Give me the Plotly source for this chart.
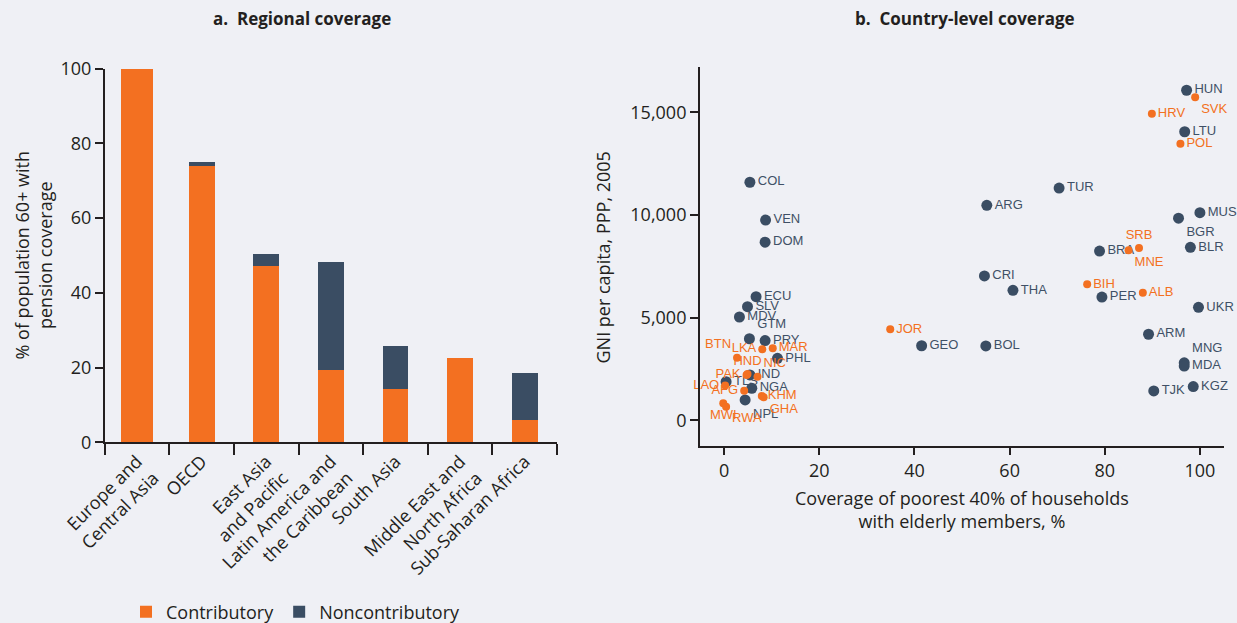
import plotly.graph_objects as go

# ---- Panel a: regional pension coverage (% of population 60+) ----
regions = [
    "Europe and<br>Central Asia",
    "OECD",
    "East Asia<br>and Pacific",
    "Latin America and<br>the Caribbean",
    "South Asia",
    "Middle East and<br>North Africa",
    "Sub-Saharan Africa",
]
contributory = [100.0, 74.0, 47.2, 19.4, 14.3, 22.6, 6.0]
noncontributory = [0.0, 1.0, 3.2, 28.9, 11.5, 0.0, 12.5]

# ---- Panel b: country-level coverage vs GNI per capita ----
nc_codes = ["HUN", "LTU", "MUS", "BGR", "BLR", "BRA", "PER", "UKR", "ARM", "MNG",
            "MDA", "KGZ", "TJK", "TUR", "ARG", "CRI", "THA", "GEO", "BOL", "COL",
            "VEN", "DOM", "ECU", "SLV", "MDV", "GTM", "PRY", "PHL", "IND", "TLS",
            "NGA", "NPL"]
nc_coverage = [97.2, 96.8, 100.0, 95.5, 98.0, 78.9, 79.4, 99.7, 89.2, 96.7,
               96.7, 98.6, 90.3, 70.4, 55.2, 54.7, 60.7, 41.5, 55.0, 5.4,
               8.7, 8.6, 6.7, 4.9, 3.2, 5.3, 8.6, 11.2, 5.4, 0.4,
               5.8, 4.4]
nc_gni = [16070, 14050, 10110, 9840, 8420, 8240, 6000, 5500, 4190, 2800,
          2640, 1640, 1430, 11310, 10470, 7030, 6330, 3630, 3620, 11590,
          9750, 8670, 6020, 5530, 5030, 3970, 3880, 3020, 2210, 1880,
          1560, 990]

c_codes = ["SVK", "HRV", "POL", "SRB", "MNE", "BIH", "ALB", "JOR", "MAR", "LKA",
           "BTN", "PAK", "HND", "NIC", "LAO", "AFG", "KHM", "GHA", "MWI", "RWA"]
c_coverage = [99.0, 89.9, 95.9, 87.2, 85.0, 76.3, 88.0, 34.9, 10.2, 8.0,
              2.7, 4.7, 4.9, 7.0, 0.2, 4.2, 7.9, 8.3, -0.2, 0.4]
c_gni = [15730, 14930, 13470, 8390, 8280, 6620, 6210, 4430, 3510, 3460,
         3050, 2210, 2260, 2120, 1690, 1440, 1180, 1120, 830, 660]

# label placement around each marker
nc_label_pos = {"BGR": "bottom right", "MNG": "top right", "GTM": "top right",
                "NPL": "bottom right"}
c_label_pos = {"SVK": "bottom right", "SRB": "top center", "MNE": "bottom right",
               "LKA": "middle left", "BTN": "top left", "PAK": "middle left",
               "HND": "top center", "NIC": "top right", "LAO": "middle left",
               "AFG": "middle left", "GHA": "bottom right", "MWI": "bottom center",
               "RWA": "bottom right"}

ORANGE = "#F37021"
NAVY = "#3A4D63"
INK = "#231F20"
BG = "#EFF0F5"
FONT = "Open Sans"
W, H = 1237, 623

fig = go.Figure()

bar_widths = [0.51] + [0.40] * (len(regions) - 1)
fig.add_trace(go.Bar(x=regions, y=contributory, name="Contributory",
                     marker=dict(color=ORANGE, line=dict(width=0)),
                     width=bar_widths, xaxis="x", yaxis="y"))
fig.add_trace(go.Bar(x=regions, y=noncontributory, name="Noncontributory",
                     marker=dict(color=NAVY, line=dict(width=0)),
                     width=bar_widths, xaxis="x", yaxis="y"))

fig.add_trace(go.Scatter(
    x=nc_coverage, y=nc_gni, text=nc_codes, mode="markers+text",
    textposition=[nc_label_pos.get(c, "middle right") for c in nc_codes],
    marker=dict(color=NAVY, size=11, line=dict(width=0)),
    textfont=dict(family="Liberation Sans, Arial", size=13, color="#3F5066"),
    showlegend=False, cliponaxis=False, xaxis="x2", yaxis="y2"))
fig.add_trace(go.Scatter(
    x=c_coverage, y=c_gni, text=c_codes, mode="markers+text",
    textposition=[c_label_pos.get(c, "middle right") for c in c_codes],
    marker=dict(color=ORANGE, size=8, line=dict(width=0)),
    textfont=dict(family="Liberation Sans, Arial", size=13, color=ORANGE),
    showlegend=False, cliponaxis=False, xaxis="x2", yaxis="y2"))

axis_common = dict(showgrid=False, zeroline=False, showline=True, linecolor=INK,
                   linewidth=1.5, ticks="outside", tickcolor=INK, tickwidth=1.5,
                   automargin=False,
                   tickfont=dict(family=FONT, size=18, color=INK))


def px_x(p):
    return p / W


def px_y(p):
    return 1 - p / H


def label(text, x, y, size=18, angle=0):
    return dict(text=text, x=px_x(x), y=px_y(y), xref="paper", yref="paper",
                xanchor="center", yanchor="middle", showarrow=False,
                textangle=angle, font=dict(family=FONT, size=size, color=INK))


fig.update_layout(
    template="none",
    width=W, height=H, autosize=False,
    margin=dict(l=0, r=0, t=0, b=0, pad=0, autoexpand=False),
    paper_bgcolor=BG, plot_bgcolor=BG,
    barmode="stack", bargap=0.2,
    font=dict(family=FONT, color=INK),
    xaxis=dict(axis_common, domain=[px_x(104.7), px_x(557)], anchor="y",
               tickson="boundaries", ticklen=11, tickangle=-45,
               range=[-0.5, 6.5]),
    yaxis=dict(axis_common, domain=[px_y(442.3), px_y(68.7)], anchor="x",
               range=[0, 100], tickvals=[0, 20, 40, 60, 80, 100], ticklen=8),
    xaxis2=dict(axis_common, domain=[px_x(699.8), px_x(1223.7)], anchor="y2",
                range=[-5.13, 105.0], tickvals=[0, 20, 40, 60, 80, 100], ticklen=8),
    yaxis2=dict(axis_common, domain=[px_y(445.7), px_y(66.7)], anchor="x2",
                range=[-1237, 17217], tickvals=[0, 5000, 10000, 15000],
                tickformat=",", ticklen=8),
    legend=dict(orientation="h", traceorder="normal", x=px_x(126),
                xanchor="left", y=px_y(612), yanchor="middle",
                font=dict(family=FONT, size=18, color=INK),
                bgcolor="rgba(0,0,0,0)", itemclick=False),
    annotations=[
        label("<b>a.\u00a0 Regional coverage</b>", 302, 18, size=17),
        label("<b>b.\u00a0 Country-level coverage</b>", 965, 18, size=17),
        label("% of population 60+ with<br>pension coverage", 33, 255.5, angle=-90),
        label("GNI per capita, PPP, 2005", 602, 257.5, angle=-90),
        label("Coverage of poorest 40% of households<br>with elderly members, %",
              962, 509.5),
    ],
)

fig.write_html("out.html")
